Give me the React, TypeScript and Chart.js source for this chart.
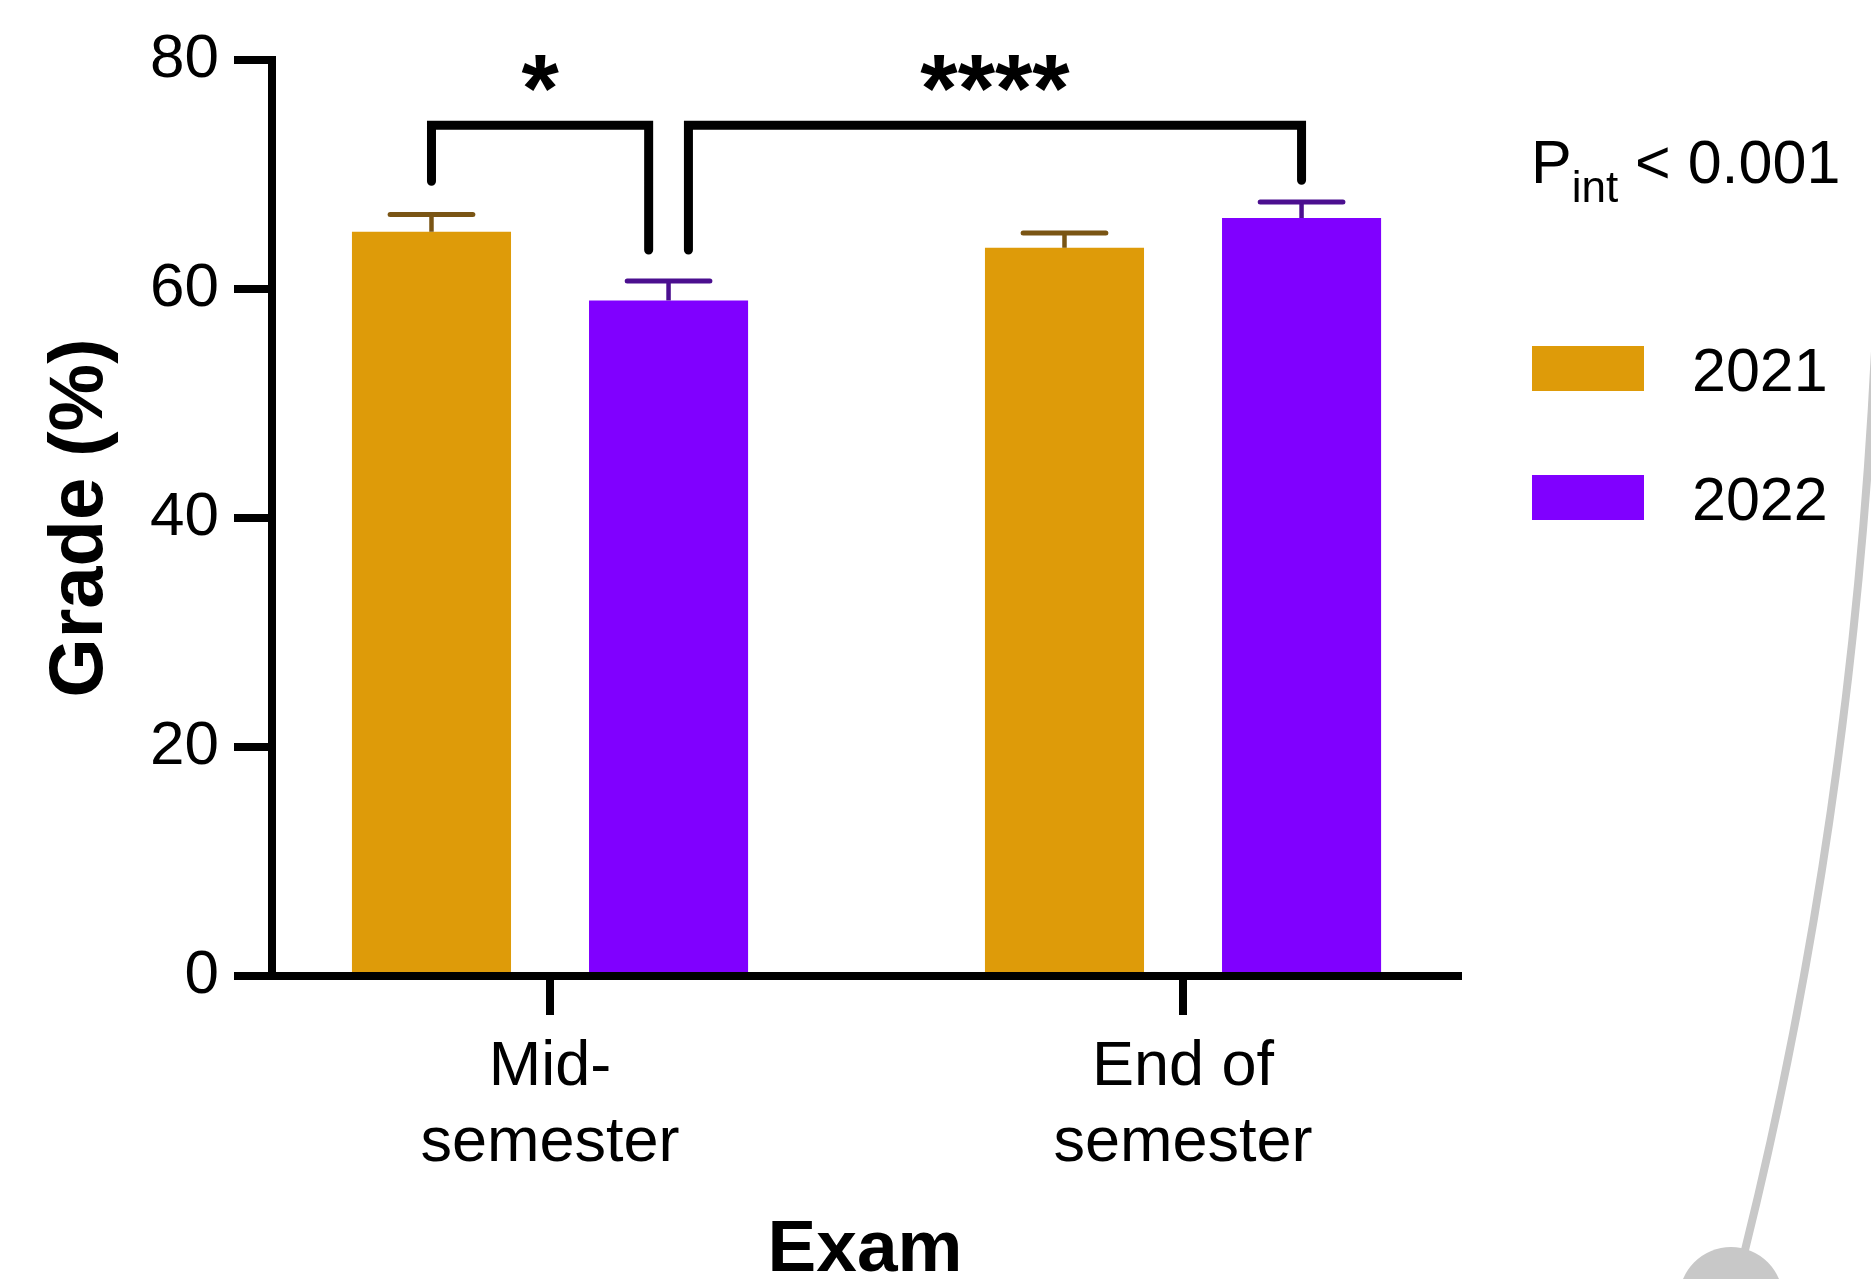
import React, { useEffect, useRef } from 'react';
import { Chart, registerables } from 'chart.js';

Chart.register(...registerables);

// ---------- data ----------
const categories: string[][] = [['Mid-', 'semester'], ['End of', 'semester']];
const categoryPositions = [0, 1];
const seriesLabels = ['2021', '2022'];
const values2021 = [65.0, 63.6];
const values2022 = [59.0, 66.2];
const errors2021 = [1.5, 1.3];
const errors2022 = [1.7, 1.4];
const yTickValues = [0, 20, 40, 60, 80];
const yTitle = 'Grade (%)';
const xTitle = 'Exam';
const interactionText = ['P', 'int', ' < 0.001'];

// significance brackets: start/end bar (series, category), leg bottoms, top, label
const bracketLabels = ['*', '****'];
const bracketStartSeries = [0, 1];
const bracketStartIndex = [0, 0];
const bracketEndSeries = [1, 1];
const bracketEndIndex = [0, 1];
const bracketStartLeg = [69.4, 63.4];
const bracketEndLeg = [63.4, 69.5];
const bracketTop = [74.3, 74.3];
const bracketStartNudge = [0, 1];
const bracketEndNudge = [-1, 0];

// ---------- style ----------
const FONT = "'Liberation Sans', Arial, Helvetica, sans-serif";
const barColors = ['#DE9B09', '#8000FF'];
const errorColors = ['#7A5514', '#4B0F8F'];
const W = 1871;
const H = 1279;

const valuesBySeries = [values2021, values2022];
const errorsBySeries = [errors2021, errors2022];

const errorBarPlugin = {
  id: 'errorBars',
  afterDatasetsDraw(chart: any) {
    const ctx = chart.ctx;
    const yScale = chart.scales.y;
    chart.data.datasets.forEach((_ds: any, i: number) => {
      const meta = chart.getDatasetMeta(i);
      meta.data.forEach((el: any, j: number) => {
        const v = valuesBySeries[i][j];
        const e = errorsBySeries[i][j];
        const top = yScale.getPixelForValue(v + e);
        const half = el.width * 0.26;
        ctx.save();
        ctx.strokeStyle = errorColors[i];
        ctx.lineWidth = 4.5;
        ctx.lineCap = 'butt';
        ctx.beginPath();
        ctx.moveTo(el.x, el.y);
        ctx.lineTo(el.x, top);
        ctx.stroke();
        ctx.lineWidth = 5;
        ctx.lineCap = 'round';
        ctx.beginPath();
        ctx.moveTo(el.x - half, top);
        ctx.lineTo(el.x + half, top);
        ctx.stroke();
        ctx.restore();
      });
    });
  },
};

const bracketPlugin = {
  id: 'brackets',
  afterDraw(chart: any) {
    const ctx = chart.ctx;
    const yScale = chart.scales.y;
    bracketLabels.forEach((label, k) => {
      const a = chart.getDatasetMeta(bracketStartSeries[k]).data[bracketStartIndex[k]] as any;
      const b = chart.getDatasetMeta(bracketEndSeries[k]).data[bracketEndIndex[k]] as any;
      const x1 = a.x + bracketStartNudge[k] * a.width * 0.125;
      const x2 = b.x + bracketEndNudge[k] * b.width * 0.125;
      const yt = yScale.getPixelForValue(bracketTop[k]);
      const y1 = yScale.getPixelForValue(bracketStartLeg[k]);
      const y2 = yScale.getPixelForValue(bracketEndLeg[k]);
      ctx.save();
      ctx.strokeStyle = '#000';
      ctx.lineWidth = 9;
      ctx.lineJoin = 'miter';
      ctx.lineCap = 'round';
      ctx.beginPath();
      ctx.moveTo(x1, y1);
      ctx.lineTo(x1, yt);
      ctx.lineTo(x2, yt);
      ctx.lineTo(x2, y2);
      ctx.stroke();
      ctx.fillStyle = '#000';
      ctx.font = `bold 96px ${FONT}`;
      ctx.textAlign = 'center';
      ctx.textBaseline = 'alphabetic';
      const m = ctx.measureText(label);
      const glyphMid = (m.actualBoundingBoxAscent - m.actualBoundingBoxDescent) / 2;
      ctx.fillText(label, (x1 + x2) / 2, yt - 52 + glyphMid);
      ctx.restore();
    });
  },
};

const legendPlugin = {
  id: 'sideLegend',
  afterDraw(chart: any) {
    const ctx = chart.ctx;
    ctx.save();
    ctx.fillStyle = '#000';
    ctx.textAlign = 'left';
    ctx.textBaseline = 'alphabetic';
    // interaction p-value
    let x = 1531;
    ctx.font = `61px ${FONT}`;
    ctx.fillText(interactionText[0], x, 183);
    x += ctx.measureText(interactionText[0]).width;
    ctx.font = `44px ${FONT}`;
    ctx.fillText(interactionText[1], x, 202);
    x += ctx.measureText(interactionText[1]).width;
    ctx.font = `61px ${FONT}`;
    ctx.fillText(interactionText[2], x, 183);
    // series legend
    chart.data.datasets.forEach((ds: any, i: number) => {
      const top = 346 + i * 129;
      ctx.fillStyle = ds.backgroundColor;
      ctx.fillRect(1532, top, 112, 45);
      ctx.fillStyle = '#000';
      ctx.font = `61px ${FONT}`;
      ctx.fillText(ds.label, 1692, top + 45);
    });
    ctx.restore();
  },
};

const decorationPlugin = {
  id: 'decoration',
  afterDraw(chart: any) {
    const ctx = chart.ctx;
    ctx.save();
    ctx.strokeStyle = '#c8c8c8';
    ctx.lineWidth = 8;
    ctx.beginPath();
    ctx.moveTo(1876, 330);
    ctx.quadraticCurveTo(1854, 812, 1745, 1250);
    ctx.stroke();
    ctx.fillStyle = '#c8c8c8';
    ctx.beginPath();
    ctx.arc(1731, 1299, 52, 0, Math.PI * 2);
    ctx.fill();
    ctx.restore();
  },
};

export default function App() {
  const ref = useRef<HTMLCanvasElement>(null);
  useEffect(() => {
    document.body.style.margin = '0';
    const canvas = ref.current;
    if (!canvas) return;
    const chart = new Chart(canvas, {
      type: 'bar',
      data: {
        datasets: seriesLabels.map((label, i) => ({
          label,
          data: categoryPositions.map((x, j) => ({ x, y: valuesBySeries[i][j] })),
          backgroundColor: barColors[i],
          borderWidth: 0,
          categoryPercentage: 0.749,
          barPercentage: 0.671,
        })),
      } as any,
      options: {
        animation: false,
        responsive: false,
        devicePixelRatio: 1,
        layout: { padding: { left: 0, right: W - 1458, top: 60, bottom: 0 } },
        plugins: {
          legend: { display: false },
          tooltip: { enabled: false },
        },
        scales: {
          x: {
            type: 'linear',
            min: -0.4392,
            max: 1.4344,
            offset: false,
            bounds: 'data',
            afterBuildTicks: (scale: any) => {
              scale.ticks = categoryPositions.map((v) => ({ value: v }));
            },
            afterFit: (scale: any) => {
              scale.height = H - 976;
            },
            ticks: {
              autoSkip: false,
              maxRotation: 0,
              minRotation: 0,
              padding: 15,
              color: '#000',
              font: { family: FONT, size: 63, lineHeight: 1.2 },
              callback: (value: any) => {
                const idx = categoryPositions.indexOf(Number(value));
                return idx >= 0 ? categories[idx] : '';
              },
            },
            grid: {
              display: true,
              drawOnChartArea: false,
              drawTicks: true,
              tickLength: 39,
              tickWidth: 8,
              tickColor: '#000',
              lineWidth: 8,
              color: '#000',
              offset: false,
            },
            border: { display: true, width: 8, color: '#000' },
            title: {
              display: true,
              text: xTitle,
              color: '#000',
              font: { family: FONT, size: 73, weight: 'bold', lineHeight: 0.9 },
              padding: { top: 0, bottom: -5 },
            },
          },
          y: {
            type: 'linear',
            min: 0,
            max: 80,
            afterBuildTicks: (scale: any) => {
              scale.ticks = yTickValues.map((v) => ({ value: v }));
            },
            afterFit: (scale: any) => {
              scale.width = 272;
            },
            ticks: {
              padding: 15,
              color: '#000',
              font: { family: FONT, size: 62 },
            },
            grid: {
              display: true,
              drawOnChartArea: false,
              drawTicks: true,
              tickLength: 38,
              tickWidth: 8,
              tickColor: '#000',
              lineWidth: 8,
              color: '#000',
            },
            border: { display: true, width: 8, color: '#000' },
            title: {
              display: true,
              text: yTitle,
              color: '#000',
              font: { family: FONT, size: 76, weight: 'bold', lineHeight: 1.2 },
              padding: { top: 35, bottom: 0 },
            },
          },
        },
      } as any,
      plugins: [errorBarPlugin, bracketPlugin, legendPlugin, decorationPlugin],
    });
    return () => chart.destroy();
  }, []);
  return <canvas ref={ref} width={W} height={H} style={{ display: 'block' }} />;
}
